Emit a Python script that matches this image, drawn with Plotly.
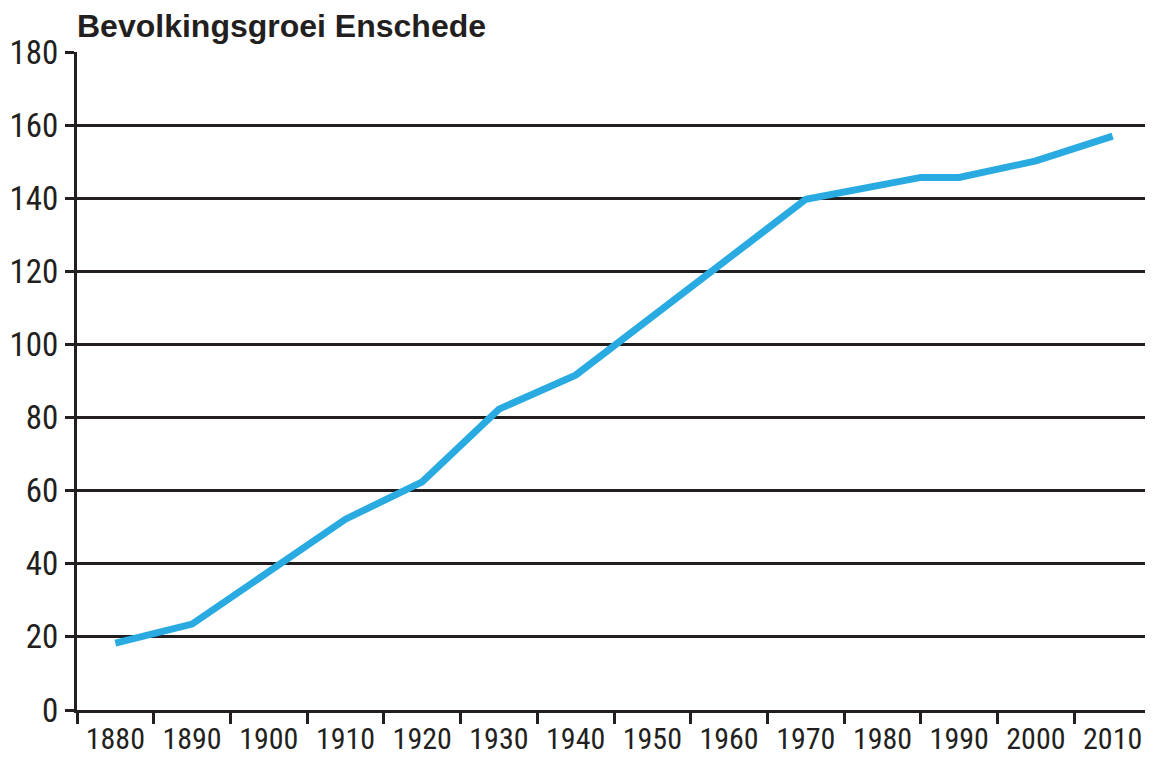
import plotly.graph_objects as go

# Enschede population (x 1000)
years = [1880, 1890, 1910, 1920, 1930, 1940, 1970, 1985, 1990, 2000, 2010]
population = [18.3, 23.5, 52.2, 62.4, 82.3, 91.6, 139.7, 145.7, 145.7, 150.2, 157.0]

tick_years = list(range(1880, 2011, 10))
y_ticks = list(range(0, 181, 20))

ink = "#231f20"
blue = "#29abe2"
# the page body has an 8px margin, so the figure is 8px smaller than the window
W, H, OFF = 1153 - 8, 762 - 8, 8

fig = go.Figure(go.Scatter(x=years, y=population, mode="lines",
                           line=dict(color=blue, width=7), hoverinfo="skip"))

fig.update_layout(
    width=W, height=H,
    paper_bgcolor="white", plot_bgcolor="white",
    margin=dict(l=77 - OFF, r=2, t=52 - OFF, b=52),
    showlegend=False,
    title=dict(text="<b>Bevolkingsgroei Enschede</b>", x=(77 - OFF) / W, xanchor="left",
               y=1 - (26 - OFF) / H, yanchor="middle", xref="container", yref="container",
               font=dict(family="Liberation Sans, Arial", size=32, color=ink)),
)

fig.update_xaxes(
    range=[1875, 2015], tickvals=tick_years, ticktext=[str(v) for v in tick_years],
    ticks="", showgrid=False, zeroline=False, automargin=False,
    showline=True, linecolor=ink, linewidth=3,
    tickfont=dict(family="Roboto Condensed", size=30, color=ink),
    minor=dict(ticks="outside", tick0=1875, dtick=10, ticklen=11, tickwidth=3,
               tickcolor=ink, showgrid=False),
)

fig.update_yaxes(
    range=[0, 180], tickvals=y_ticks, automargin=False,
    ticks="outside", ticklen=9, tickwidth=3, tickcolor=ink,
    showgrid=True, gridcolor=ink, gridwidth=3, zeroline=False,
    showline=True, linecolor=ink, linewidth=3,
    tickfont=dict(family="Roboto Condensed", size=33, color=ink),
)

fig.write_html("out.html")
